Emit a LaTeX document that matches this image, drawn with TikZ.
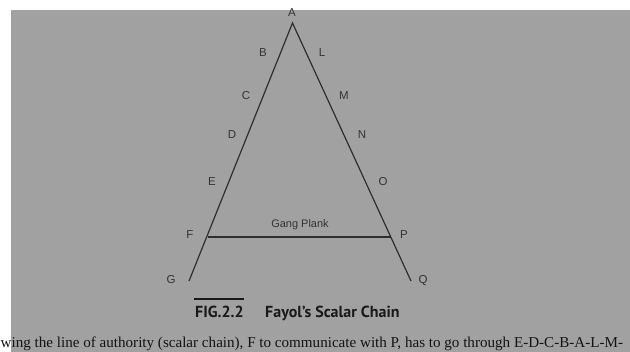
\documentclass[tikz,border=0pt]{standalone}
\usepackage{fontspec}
\setmainfont{Liberation Serif}
\newfontfamily\lblfont{Liberation Sans}
\newfontfamily\capfont{PT Sans}
\begin{document}
\begin{tikzpicture}[x=1pt,y=-1pt,
  lbl/.style={font=\lblfont\fontsize{11.5}{13}\selectfont, text=black!80, inner sep=0pt},
  chainline/.style={draw=black!82, line width=1.2pt},
  captxt/.style={font=\capfont\bfseries\fontsize{16}{18}\selectfont, text=black!90, inner sep=0pt, anchor=base west}]
\useasboundingbox (0,0) rectangle (630,352);
\fill[white] (0,0) rectangle (630,352);
\fill[black!37] (11,10) rectangle (630,352);
% key points
\coordinate (apex) at (292.5,23);
\coordinate (gEnd) at (189,281);
\coordinate (qEnd) at (411,281);
\coordinate (fPt) at (207.5,237);
\coordinate (pPt) at (390.5,237);
\draw[chainline] (gEnd) -- (apex) -- (qEnd);
\draw[chainline] (fPt) -- (pPt);
% labels
\node[lbl] (A) at (292,13) {A};
\node[lbl] (B) at (263,53) {B};
\node[lbl] (L) at (322,53) {L};
\node[lbl] (C) at (246,96) {C};
\node[lbl] (M) at (344,96) {M};
\node[lbl] (D) at (232,135) {D};
\node[lbl] (N) at (362,135) {N};
\node[lbl] (E) at (212,182) {E};
\node[lbl] (O) at (383,182) {O};
\node[lbl] (F) at (190,235) {F};
\node[lbl] (P) at (404,235) {P};
\node[lbl] (G) at (171,280) {G};
\node[lbl] (Q) at (423,281) {Q};
\node[lbl, font=\lblfont\fontsize{11}{13}\selectfont] (gang) at (300,225) {Gang Plank};
% caption
\node[captxt] (fig) at (195,318) {FIG.2.2};
\draw[black!90, line width=2pt] (194,299) -- (244,299);
\node[captxt] (title) at (265,318) {Fayol’s Scalar Chain};
% bottom text
\node[inner sep=0pt, anchor=base west, text=black!92, font=\fontsize{15.1}{17}\selectfont] (body) at (0.5,348) {wing the line of authority (scalar chain), F to communicate with P, has to go through E-D-C-B-A-L-M-};
\end{tikzpicture}
\end{document}
